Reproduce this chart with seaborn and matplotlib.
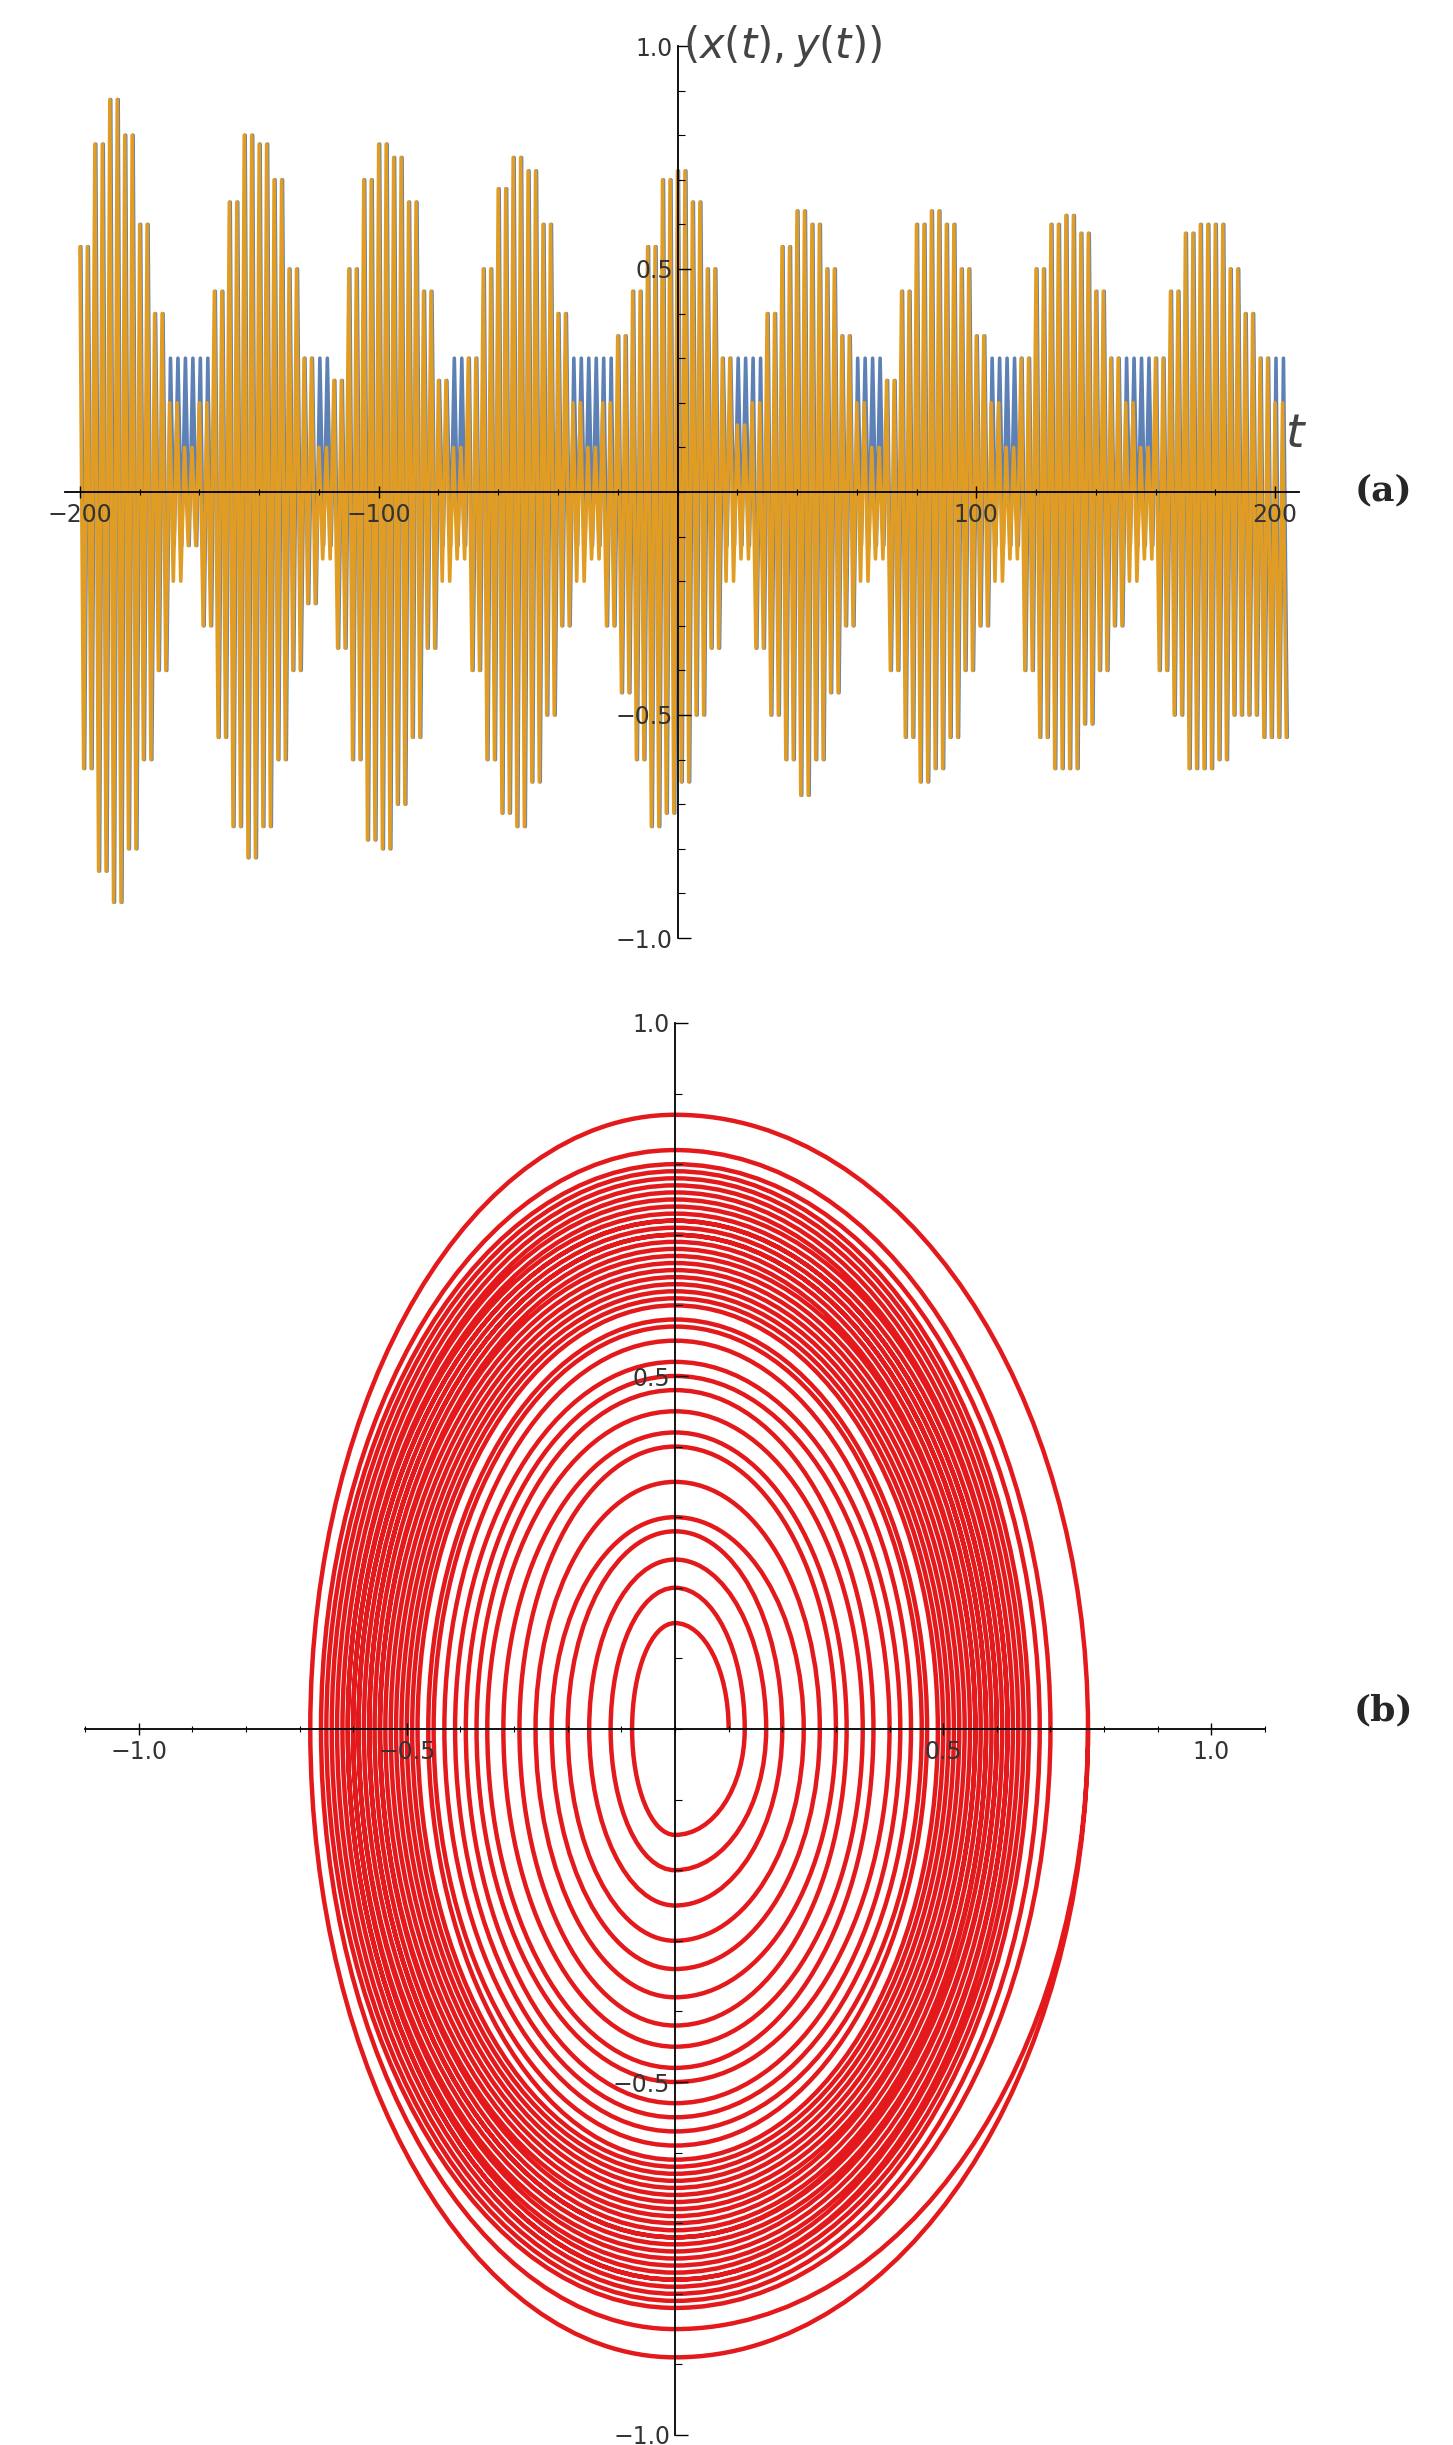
import numpy as np
import matplotlib
matplotlib.use("Agg")
import matplotlib.pyplot as plt
import seaborn as sns
import pandas as pd
from matplotlib.path import Path
from matplotlib.patches import PathPatch
from matplotlib.ticker import MultipleLocator

# ---- data (one value per pair of consecutive peaks) ----
t_pairs = list(range(-200, 201, 5))
orange_max = [0.55,0.78,0.88,0.8,0.6,0.4,0.2,0.1,
              0.2,0.45,0.65,0.8,0.78,0.7,0.5,0.3,0.1,
              0.25,0.5,0.7,0.78,0.75,0.65,0.45,0.25,0.1,
              0.3,0.5,0.68,0.75,0.72,0.6,0.4,0.2,0.1,
              0.2,0.35,0.45,0.55,0.7,0.72,0.65,0.5,0.3,0.15,
              0.2,0.4,0.55,0.63,0.6,0.5,0.35,0.2,0.1,
              0.25,0.45,0.6,0.63,0.6,0.5,0.35,0.2,0.1,
              0.3,0.5,0.6,0.62,0.58,0.45,0.3,0.2,0.1,
              0.3,0.45,0.58,0.6,0.6,0.5,0.4,0.3,0.2]
orange_min = [-0.62,-0.85,-0.92,-0.8,-0.6,-0.4,-0.2,-0.12,
              -0.3,-0.55,-0.75,-0.82,-0.75,-0.6,-0.4,-0.25,-0.15,
              -0.35,-0.6,-0.78,-0.8,-0.7,-0.55,-0.35,-0.2,-0.15,
              -0.4,-0.6,-0.72,-0.75,-0.65,-0.5,-0.3,-0.2,-0.15,
              -0.3,-0.45,-0.6,-0.75,-0.72,-0.65,-0.5,-0.35,-0.2,-0.15,
              -0.35,-0.5,-0.6,-0.68,-0.6,-0.45,-0.3,-0.2,-0.15,
              -0.4,-0.55,-0.65,-0.62,-0.55,-0.4,-0.3,-0.2,-0.15,
              -0.4,-0.55,-0.62,-0.62,-0.52,-0.4,-0.3,-0.2,-0.15,
              -0.4,-0.5,-0.62,-0.62,-0.6,-0.5,-0.5,-0.55,-0.55]
blue_max = [v if v > 0.22 else 0.3 for v in orange_max]
blue_min = [v if v < -0.22 else -0.12 for v in orange_min]

ring_right = [0.1,0.13,0.17,0.2,0.24,0.27,0.3,0.32,0.35,0.37,0.4,0.42,0.44,0.46,0.47,0.49,0.5,0.51,0.52,0.53,0.54,0.55,0.56,0.56,0.57,0.58,0.58,0.59,0.6,0.6,0.61,0.62,0.62,0.63,0.64,0.65,0.66,0.68,0.7,0.77]
ring_top = [0.15,0.2,0.24,0.28,0.3,0.35,0.4,0.42,0.45,0.48,0.5,0.52,0.55,0.57,0.58,0.6,0.61,0.62,0.63,0.64,0.65,0.66,0.67,0.68,0.69,0.7,0.7,0.71,0.72,0.72,0.73,0.74,0.75,0.76,0.77,0.78,0.79,0.8,0.82,0.87]
ring_left = [0.08,0.12,0.16,0.2,0.23,0.26,0.29,0.32,0.35,0.37,0.39,0.41,0.43,0.45,0.46,0.48,0.49,0.5,0.51,0.52,0.53,0.54,0.55,0.55,0.56,0.57,0.57,0.58,0.59,0.59,0.6,0.6,0.61,0.61,0.62,0.63,0.64,0.65,0.66,0.68]
ring_bottom = [0.15,0.2,0.25,0.3,0.34,0.38,0.42,0.45,0.48,0.5,0.53,0.55,0.57,0.59,0.61,0.62,0.63,0.64,0.65,0.66,0.67,0.68,0.69,0.7,0.71,0.72,0.72,0.73,0.74,0.75,0.76,0.77,0.78,0.78,0.79,0.8,0.81,0.82,0.85,0.89]

sns.set_style("white")
fig = plt.figure(figsize=(14.53, 24.45), dpi=100)
W, H = 1453, 2445
ax1 = fig.add_axes([65/W, 1-938/H, (1299-65)/W, (938-46)/H])
ax2 = fig.add_axes([85/W, 1-2435/H, (1265-85)/W, (2435-1023)/H])

def series(tc, mx, mn, shift):
    tt, vv = [], []
    for t, a, b in zip(tc, mx, mn):
        for sub in (0.0, 2.5):
            tt += [t + sub + shift, t + sub + 1.25 + shift]
            vv += [a, b]
    return pd.DataFrame({"t": tt, "v": vv})

db = series(t_pairs, blue_max, blue_min, 0.3)
do = series(t_pairs, orange_max, orange_min, 0.0)
sns.lineplot(data=db, x="t", y="v", ax=ax1, color="#5e81b5", lw=2.6, sort=False, estimator=None)
sns.lineplot(data=do, x="t", y="v", ax=ax1, color="#e19c24", lw=2.6, sort=False, estimator=None)

def style(ax, xl, yl, xt, yt, xminor, yminor):
    ax.set_xlim(*xl); ax.set_ylim(*yl)
    for s in ["top", "right"]:
        ax.spines[s].set_visible(False)
    ax.spines["left"].set_position(("data", 0))
    ax.spines["bottom"].set_position(("data", 0))
    for s in ["left", "bottom"]:
        ax.spines[s].set_color("black"); ax.spines[s].set_linewidth(1.3); ax.spines[s].set_zorder(5)
    ax.set_xticks(xt); ax.set_yticks(yt)
    ax.xaxis.set_minor_locator(MultipleLocator(xminor))
    ax.yaxis.set_minor_locator(MultipleLocator(yminor))
    ax.tick_params(which="major", direction="in", length=9, width=1, colors="black", labelcolor="#333333", labelsize=17)
    ax.tick_params(which="minor", direction="in", length=5, width=0.8, colors="black")
    ax.tick_params(axis="x", which="both", bottom=True, direction="inout")
    ax.tick_params(axis="y", which="both", left=True)
    ax.set_xlabel(""); ax.set_ylabel("")
    ax.grid(False)
    ax.patch.set_alpha(0)
    ax.set_axisbelow(False)

style(ax1, (-205, 208), (-1.0, 1.0), [-200, -100, 100, 200], [-1.0, -0.5, 0.5, 1.0], 20, 0.1)
ax1.set_xticklabels(["\u2212200", "\u2212100", "100", "200"])
ax1.set_yticklabels(["\u22121.0", "\u22120.5", "0.5", "1.0"])
ax1.text(2, 1.0, "$(x(t), y(t))$", fontsize=30, color="#444444", va="center", ha="left")
ax1.text(207, 0.1, "$t$", fontsize=34, color="#444444", ha="center")
fig.text(1383/W, 1-490/H, "(a)", fontsize=26, weight="bold", family="DejaVu Serif", ha="center", va="center")

k = 0.5523
verts = [(ring_right[0], 0)]
codes = [Path.MOVETO]
for i in range(len(ring_right)):
    r, tp, l, b = ring_right[i], ring_top[i], ring_left[i], ring_bottom[i]
    rn = ring_right[i + 1] if i + 1 < len(ring_right) else r
    verts += [(r, k*tp), (k*r, tp), (0, tp),
              (-k*l, tp), (-l, k*tp), (-l, 0),
              (-l, -k*b), (-k*l, -b), (0, -b),
              (k*rn, -b), (rn, -k*b), (rn, 0)]
    codes += [Path.CURVE4]*12
ax2.add_patch(PathPatch(Path(verts, codes), facecolor="none", edgecolor="#e3191c", lw=3.2))
style(ax2, (-1.1, 1.1), (-1.0, 1.0), [-1.0, -0.5, 0.5, 1.0], [-1.0, -0.5, 0.5, 1.0], 0.1, 0.1)
ax2.set_xticklabels(["\u22121.0", "\u22120.5", "0.5", "1.0"])
ax2.set_yticklabels(["\u22121.0", "\u22120.5", "0.5", "1.0"])
fig.text(1383/W, 1-1710/H, "(b)", fontsize=26, weight="bold", family="DejaVu Serif", ha="center", va="center")

fig.savefig("out.png", dpi=100)
